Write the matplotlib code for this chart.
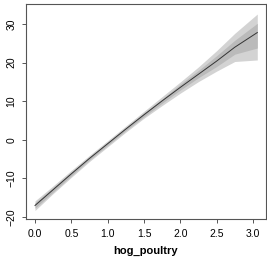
import matplotlib
matplotlib.use("Agg")
import matplotlib.pyplot as plt

# values
hog_poultry = [0.0, 0.25, 0.5, 0.75, 1.0, 1.25, 1.5, 1.75, 2.0, 2.25, 2.5, 2.75, 3.06]
fit = [-17.0, -12.9, -8.8, -4.8, -1.0, 2.8, 6.5, 10.1, 13.6, 17.0, 20.4, 24.0, 27.8]
outer_hi = [-15.8, -11.9, -7.9, -4.0, -0.2, 3.6, 7.4, 11.2, 15.0, 18.9, 23.1, 27.6, 32.6]
outer_lo = [-18.3, -13.9, -9.7, -5.6, -1.8, 2.0, 5.6, 8.9, 12.1, 15.1, 17.8, 20.3, 20.7]
inner_hi = [-16.3, -12.3, -8.3, -4.4, -0.6, 3.2, 7.0, 10.6, 14.4, 18.0, 21.8, 25.8, 30.2]
inner_lo = [-17.7, -13.5, -9.3, -5.2, -1.4, 2.4, 6.0, 9.5, 12.9, 16.1, 19.0, 22.2, 23.8]

xticks = [0.0, 0.5, 1.0, 1.5, 2.0, 2.5, 3.0]
yticks = [-20, -10, 0, 10, 20, 30]

plt.rcParams['font.family'] = ['Liberation Sans', 'DejaVu Sans']

fig = plt.figure(figsize=(2.67, 2.64), dpi=100)
ax = fig.add_axes([26 / 267, 45 / 264, 240 / 267, 215 / 264])

ax.fill_between(hog_poultry, outer_lo, outer_hi, color='#d3d3d3', lw=0)
ax.fill_between(hog_poultry, inner_lo, inner_hi, color='#bababa', lw=0)
ax.plot(hog_poultry, fit, color='#333333', lw=0.7)

ax.set_xlim(-0.124, 3.18)
ax.set_ylim(-20.5, 35.2)
ax.set_xticks(xticks)
ax.set_xticklabels(['%.1f' % v for v in xticks])
ax.set_yticks(yticks)
ax.set_yticklabels([str(v).replace('-', '\u2212') for v in yticks], rotation=90, va='center')

for s in ax.spines.values():
    s.set_color('#555555')
    s.set_linewidth(0.8)
ax.tick_params(length=3, width=0.7, color='#555555', labelsize=7.5, pad=4)
ax.set_xlabel('hog_poultry', fontsize=8, fontweight='bold', labelpad=5)

fig.savefig('out.png', dpi=100)
